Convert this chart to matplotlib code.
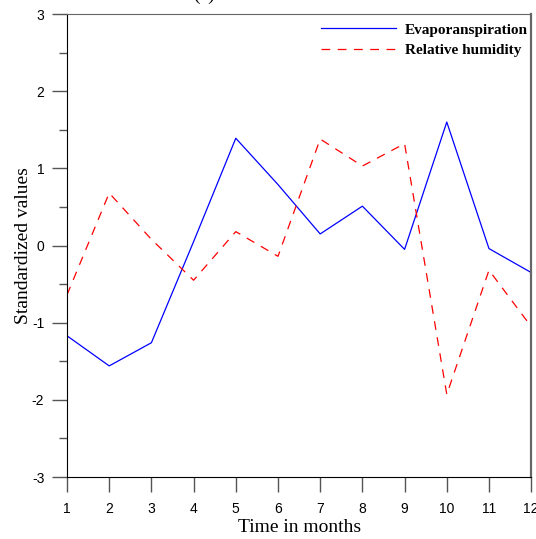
import numpy as np
from matplotlib import pyplot as plt
from matplotlib.ticker import MultipleLocator

plt.rcParams['axes.unicode_minus'] = False

# Datos
meses = np.arange(1, 13)
evapo = [-1.17, -1.56, -1.26, 0.05, 1.39, 0.79, 0.15, 0.51, -0.05, 1.60, -0.04, -0.35]
humedad = [-0.64, 0.68, 0.08, -0.45, 0.18, -0.14, 1.38, 1.03, 1.32, -1.93, -0.32, -1.05]

serif = 'Liberation Serif'
sans = 'Liberation Sans'

fig = plt.figure(figsize=(5.36, 5.39), dpi=100)
ax = fig.add_axes([0.125, 0.115, 0.866, 0.859])

ax.plot(meses, evapo, color='blue', lw=0.9, label='Evaporanspiration')
ax.plot(meses, humedad, color='red', lw=0.9, dashes=(7, 6), label='Relative humidity')

ax.set_xlim(1, 12)
ax.set_ylim(-3, 3)
ax.set_xticks(meses)
ax.yaxis.set_major_locator(MultipleLocator(1))
ax.yaxis.set_minor_locator(MultipleLocator(0.5))

# longitudes en puntos (15 px ~ 10.8 pt)
ax.tick_params(axis='both', which='major', direction='out', length=10.8, width=1,
               color='#555555', labelsize=10)
ax.tick_params(axis='y', which='minor', direction='out', length=6, width=1, color='#555555')
ax.tick_params(axis='x', pad=7.5)
ax.tick_params(axis='y', pad=5.5)
for lab in ax.get_xticklabels() + ax.get_yticklabels():
    lab.set_family(sans)

ax.spines['left'].set_color('black')
ax.spines['bottom'].set_color('black')
ax.spines['top'].set_color('#666666')
ax.spines['right'].set_color('#666666')
ax.spines['right'].set_linewidth(1.6)

ax.set_xlabel('Time in months', family=serif, fontsize=14, labelpad=1.5)
ax.set_ylabel('Standardized values', family=serif, fontsize=14, labelpad=0)

ax.legend(loc='upper right', bbox_to_anchor=(1.014, 1.002), frameon=False,
          prop={'family': serif, 'weight': 'bold', 'size': 11},
          handlelength=4.9, handletextpad=0.55, labelspacing=0.45, borderaxespad=0.25)

fig.text(0.38, 1.0, '(a)', family=serif, fontsize=14, ha='center', va='baseline')

plt.savefig('out.png', dpi=100)
